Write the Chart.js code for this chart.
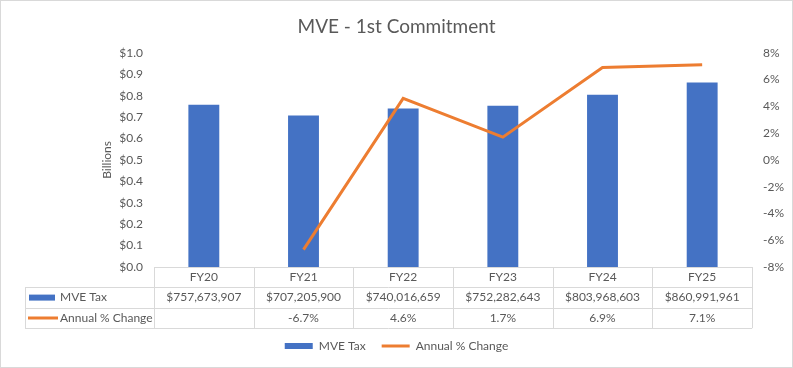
<!DOCTYPE html>
<html><head><meta charset="utf-8">
<script src="https://cdn.jsdelivr.net/npm/chart.js@4.4.1/dist/chart.umd.min.js"></script>
<style>html,body{margin:0;padding:0;background:#fff;}#wrap{width:793px;height:368px;}</style>
</head><body><div id="wrap"><canvas id="c" width="793" height="368"></canvas></div>
<script>
const categories = ['FY20', 'FY21', 'FY22', 'FY23', 'FY24', 'FY25'];
const mveTax = [757673907, 707205900, 740016659, 752282643, 803968603, 860991961];
const annualChange = [null, -6.7, 4.6, 1.7, 6.9, 7.1];
const seriesNames = ['MVE Tax', 'Annual % Change'];

const BLUE = '#4472C4', ORANGE = '#ED7D31', TXT = '#595959', GRIDC = '#D9D9D9';
const FONT = 'Lato, "Liberation Sans", sans-serif';

function fmtMoney(v) { return '$' + v.toLocaleString('en-US'); }
function fmtPct(v) { return v === null ? '' : v.toFixed(1) + '%'; }

const tablePlugin = {
  id: 'dataTable',
  afterDraw(chart) {
    const ctx = chart.ctx, x = chart.scales.x;
    const top = chart.chartArea.bottom;
    const n = categories.length;
    const bounds = [x.left];
    for (let i = 0; i < n - 1; i++) bounds.push((x.getPixelForTick(i) + x.getPixelForTick(i + 1)) / 2);
    bounds.push(x.right);
    const rowH = 20.4;
    const r1 = top + rowH, r2 = r1 + rowH, r3 = r2 + rowH;
    const labelLeft = 25;
    const s = v => Math.round(v) + 0.5;
    ctx.save();
    ctx.strokeStyle = GRIDC; ctx.lineWidth = 1;
    ctx.beginPath();
    ctx.moveTo(x.left, s(top)); ctx.lineTo(x.right, s(top));
    [r1, r2, r3].forEach(r => { ctx.moveTo(labelLeft, s(r)); ctx.lineTo(x.right, s(r)); });
    bounds.forEach(b => { ctx.moveTo(s(b), top); ctx.lineTo(s(b), r3); });
    ctx.moveTo(s(labelLeft), r1); ctx.lineTo(s(labelLeft), r3);
    ctx.stroke();
    // outer border of image
    ctx.strokeRect(0.5, 0.5, chart.width - 1, chart.height - 1);

    ctx.font = '12px ' + FONT;
    ctx.fillStyle = TXT;
    ctx.textBaseline = 'middle';
    ctx.textAlign = 'center';
    const c1 = (top + r1) / 2, c2 = (r1 + r2) / 2, c3 = (r2 + r3) / 2;
    for (let i = 0; i < n; i++) {
      const cx = x.getPixelForTick(i);
      ctx.fillText(categories[i], cx, c1);
      ctx.fillText(fmtMoney(mveTax[i]), cx, c2);
      ctx.fillText(fmtPct(annualChange[i]), cx, c3);
    }
    ctx.textAlign = 'left';
    ctx.fillText(seriesNames[0], 60, c2);
    ctx.fillText(seriesNames[1], 60, c3);
    ctx.fillStyle = BLUE;
    ctx.fillRect(29, c2 - 3, 26, 6);
    ctx.strokeStyle = ORANGE; ctx.lineWidth = 3;
    ctx.beginPath(); ctx.moveTo(28, c3); ctx.lineTo(58, c3); ctx.stroke();
    ctx.restore();
  }
};

new Chart(document.getElementById('c'), {
  type: 'bar',
  data: {
    labels: categories,
    datasets: [
      {
        type: 'bar', label: seriesNames[0],
        data: mveTax.map(v => v / 1e9),
        backgroundColor: BLUE, borderWidth: 0,
        categoryPercentage: 1, barPercentage: 0.31,
        yAxisID: 'y', order: 1, pointStyle: 'rect'
      },
      {
        type: 'line', label: seriesNames[1],
        data: annualChange,
        borderColor: ORANGE, backgroundColor: ORANGE, borderWidth: 3,
        pointRadius: 0, tension: 0, yAxisID: 'y1', order: 0, pointStyle: 'line'
      }
    ]
  },
  options: {
    responsive: false, animation: false, devicePixelRatio: 1,
    layout: { padding: { left: 0, right: 0, top: 0, bottom: 6 } },
    plugins: {
      tooltip: { enabled: false },
      title: {
        display: true, text: 'MVE - 1st Commitment', color: TXT,
        font: { family: FONT, size: 19, weight: 'normal' },
        padding: { top: 15, bottom: 15 }
      },
      legend: {
        position: 'bottom',
        labels: {
          usePointStyle: true, pointStyleWidth: 28, boxHeight: 6, padding: 16,
          color: TXT, font: { family: FONT, size: 12 },
          sort: (a, b) => a.datasetIndex - b.datasetIndex,
          generateLabels(chart) {
            const items = Chart.defaults.plugins.legend.labels.generateLabels(chart);
            items.forEach(it => {
              if (it.datasetIndex === 0) { it.pointStyle = 'rect'; it.lineWidth = 0; it.fillStyle = BLUE; it.strokeStyle = BLUE; }
              else { it.pointStyle = 'line'; it.lineWidth = 3; it.strokeStyle = ORANGE; it.fillStyle = ORANGE; }
            });
            return items;
          }
        }
      }
    },
    scales: {
      x: {
        grid: { display: false }, border: { display: false },
        ticks: { display: false },
        afterFit(scale) { scale.height = 57; }
      },
      y: {
        position: 'left', min: 0, max: 1,
        grid: { display: false, drawTicks: false }, border: { display: false },
        ticks: { stepSize: 0.1, padding: 11, color: TXT, font: { family: FONT, size: 12 },
          callback: v => '$' + Number(v).toFixed(1) },
        title: { display: true, text: 'Billions', color: TXT, font: { family: FONT, size: 12 }, padding: { top: 100, bottom: 0 } },
        afterFit(scale) { scale.width = 154; }
      },
      y1: {
        position: 'right', min: -8, max: 8,
        grid: { display: false, drawTicks: false }, border: { display: false },
        ticks: { stepSize: 2, padding: 11, color: TXT, font: { family: FONT, size: 12 },
          callback: v => v + '%' },
        afterFit(scale) { scale.width = 41; }
      }
    }
  },
  plugins: [tablePlugin]
});
</script>
</body></html>
